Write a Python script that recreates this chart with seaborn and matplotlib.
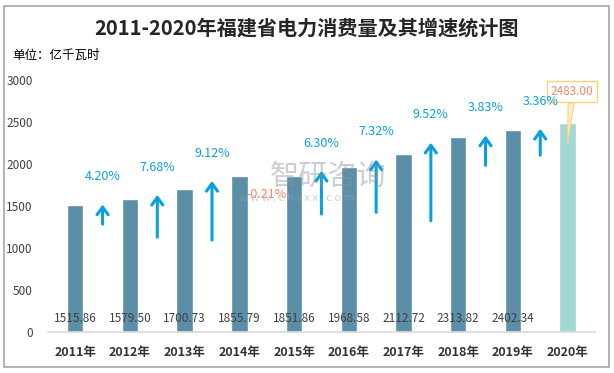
import numpy as np
import pandas as pd
import seaborn as sns
import matplotlib.pyplot as plt
from matplotlib.patches import Rectangle

# 数据
years = ['2011年', '2012年', '2013年', '2014年', '2015年',
         '2016年', '2017年', '2018年', '2019年', '2020年']
consumption = [1515.86, 1579.50, 1700.73, 1855.79, 1851.86,
               1968.58, 2112.72, 2313.82, 2402.34, 2483.00]
growth = ['4.20%', '7.68%', '9.12%', '-0.21%', '6.30%',
          '7.32%', '9.52%', '3.83%', '3.36%']
# 增速箭头的起止值
arrow_lo = [1250, 1095, 1060, None, 1370, 1390, 1290, 1950, 2070]
arrow_hi = [1550, 1665, 1830, 1640, 1950, 2085, 2285, 2370, 2450]

bar_colors = ['#5b8fa8'] * 9 + ['#a3d8d6']
blue = '#0aa0e0'

sns.set_style('white')
plt.rcParams['font.family'] = ['Noto Sans CJK SC', 'DejaVu Sans']

fig = plt.figure(figsize=(6.14, 3.73), dpi=100)
ax = fig.add_axes([0.078, 0.110, 0.891, 0.676])

df = pd.DataFrame({'year': years, 'value': consumption})
sns.barplot(data=df, x='year', y='value', hue='year', palette=bar_colors,
            width=0.3, legend=False, ax=ax, saturation=1)

# 数值标签
for i, v in enumerate(consumption[:-1]):
    ax.text(i, 155, f'{v:.2f}', ha='center', va='center',
            fontsize=8.5, color='#404040')

# 2020 标注框
ax.annotate(f'{consumption[-1]:.2f}', xy=(9, 2230), xytext=(9.08, 2857),
            ha='center', va='center', fontsize=8.5, color='#f08a70',
            bbox=dict(boxstyle='square,pad=0.35', fc='white', ec='#f9d27a', lw=1),
            arrowprops=dict(arrowstyle='wedge,tail_width=0.5', fc='#fdf0c8',
                            ec='#f9d27a', lw=0.8, shrinkA=0, shrinkB=0))

# 增速箭头与标签
for i, g in enumerate(growth):
    xm = i + 0.5
    neg = g.startswith('-')
    if arrow_lo[i] is not None:
        ax.annotate('', xy=(xm, arrow_hi[i]), xytext=(xm, arrow_lo[i]),
                    arrowprops=dict(arrowstyle='->,head_length=0.55,head_width=0.4',
                                    color=blue, lw=2.2))
    ax.annotate(g, xy=(xm, arrow_hi[i]), xytext=(0, 0 if neg else 18),
                textcoords='offset points', ha='center', va='center',
                fontsize=9, color='#f08a70' if neg else blue)

ax.set_xlim(-0.5, 9.5)
ax.set_ylim(0, 3000)
ax.set_yticks(range(0, 3001, 500))
ax.set_xlabel('')
ax.set_ylabel('')
ax.tick_params(axis='y', labelsize=8.5, colors='#404040', length=0, pad=11)
ax.tick_params(axis='x', labelsize=9, colors='#333333', length=0, pad=10)
for lab in ax.get_xticklabels():
    lab.set_fontweight('bold')
for s in ['top', 'right', 'left']:
    ax.spines[s].set_visible(False)
ax.spines['bottom'].set_color('#d9d9d9')
ax.spines['bottom'].set_linewidth(1.2)

# 水印
fig.text(0.44, 0.527, '智研咨询', fontsize=21, color='#8a949d', alpha=0.45,
         ha='left', va='center')
fig.text(0.39, 0.468, 'w w w . c h y x x . c o m', fontsize=8, color='#9aa4ad',
         alpha=0.5, ha='left', va='center')

fig.text(0.5, 0.925, '2011-2020年福建省电力消费量及其增速统计图', ha='center',
         va='center', fontsize=14.5, fontweight='bold', color='#262626')
fig.text(0.02, 0.852, '单位：亿千瓦时', ha='left', va='center',
         fontsize=9, color='#000000')

fig.patches.append(Rectangle((0.0065, 0.016), 0.985, 0.968,
                             transform=fig.transFigure, fill=False,
                             ec='#a6a6a6', lw=1.2))

fig.savefig('out.png', dpi=100)
